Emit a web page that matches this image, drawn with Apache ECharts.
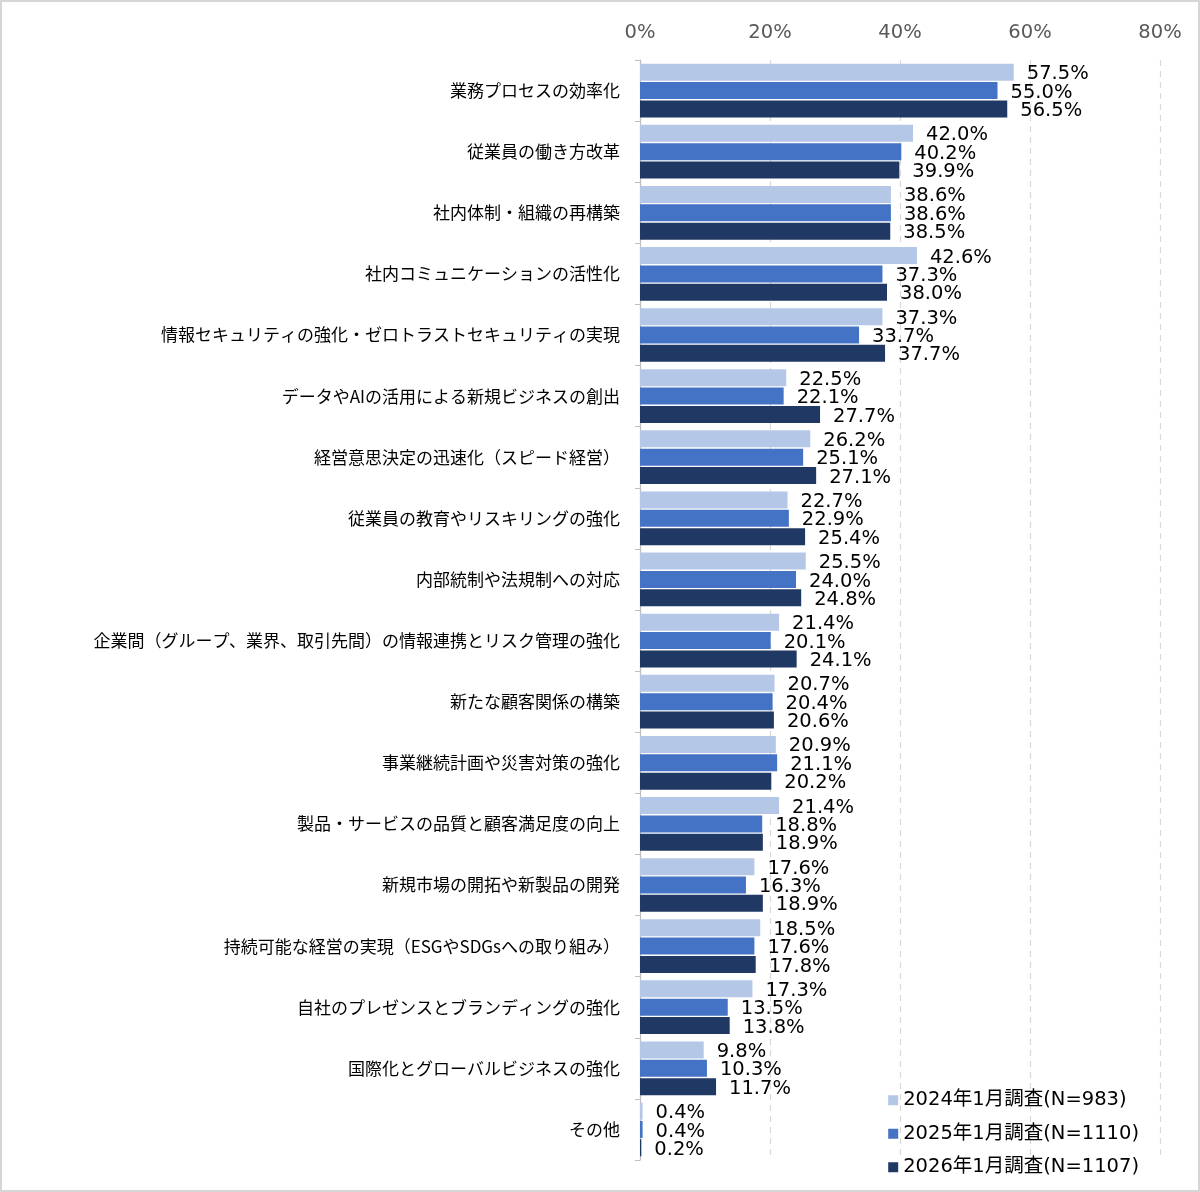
<!DOCTYPE html>
<html>
<head>
<meta charset="utf-8">
<script src="https://cdn.jsdelivr.net/npm/echarts@6/dist/echarts.min.js"></script>
<style>
    html, body { margin: 0; padding: 0; background: #fff; }
    #chart { width: 1200px; height: 1192px; box-sizing: border-box; border: 2px solid #D6D6D6; }
</style>
</head>
<body>
<div id="chart"></div>
<script>
// 回答項目
var categories = [
    "業務プロセスの効率化",
    "従業員の働き方改革",
    "社内体制・組織の再構築",
    "社内コミュニケーションの活性化",
    "情報セキュリティの強化・ゼロトラストセキュリティの実現",
    "データやAIの活用による新規ビジネスの創出",
    "経営意思決定の迅速化（スピード経営）",
    "従業員の教育やリスキリングの強化",
    "内部統制や法規制への対応",
    "企業間（グループ、業界、取引先間）の情報連携とリスク管理の強化",
    "新たな顧客関係の構築",
    "事業継続計画や災害対策の強化",
    "製品・サービスの品質と顧客満足度の向上",
    "新規市場の開拓や新製品の開発",
    "持続可能な経営の実現（ESGやSDGsへの取り組み）",
    "自社のプレゼンスとブランディングの強化",
    "国際化とグローバルビジネスの強化",
    "その他"
];
var seriesNames = ["2024年1月調査(N=983)", "2025年1月調査(N=1110)", "2026年1月調査(N=1107)"];
var values2024 = [57.5, 42.0, 38.6, 42.6, 37.3, 22.5, 26.2, 22.7, 25.5, 21.4, 20.7, 20.9, 21.4, 17.6, 18.5, 17.3, 9.8, 0.4];
var values2025 = [55.0, 40.2, 38.6, 37.3, 33.7, 22.1, 25.1, 22.9, 24.0, 20.1, 20.4, 21.1, 18.8, 16.3, 17.6, 13.5, 10.3, 0.4];
var values2026 = [56.5, 39.9, 38.5, 38.0, 37.7, 27.7, 27.1, 25.4, 24.8, 24.1, 20.6, 20.2, 18.9, 18.9, 17.8, 13.8, 11.7, 0.2];
var xTicks = [0, 20, 40, 60, 80];

var colors = ["#B4C7E7", "#4472C4", "#203864"];
var allValues = [values2024, values2025, values2026];

var makeSeries = function (i) {
    return {
        name: seriesNames[i],
        type: "bar",
        data: allValues[i],
        barWidth: 17,
        barGap: "8%",
        itemStyle: { color: colors[i] },
        label: {
            show: true,
            position: "right",
            distance: 13,
            offset: [0, 2],
            color: "#000",
            fontFamily: "DejaVu Sans",
            fontSize: 19.5,
            formatter: function (p) { return p.value.toFixed(1) + "%"; }
        }
    };
};

var myChart = echarts.init(document.getElementById("chart"));
myChart.setOption({
    animation: false,
    color: colors,
    grid: { left: 638, right: 38, top: 58, bottom: 30 },
    legend: {
        orient: "vertical",
        right: 54,
        bottom: 8,
        itemWidth: 10,
        itemHeight: 10,
        itemGap: 14,
        icon: "rect",
        textStyle: { fontFamily: "DejaVu Sans, Noto Sans CJK JP", fontSize: 19.5, color: "#000" },
        data: seriesNames
    },
    xAxis: {
        type: "value",
        position: "top",
        min: 0,
        max: 80,
        interval: 20,
        axisLine: { show: false },
        axisTick: { show: false },
        axisLabel: {
            color: "#595959",
            fontFamily: "DejaVu Sans",
            fontSize: 19.5,
            margin: 17,
            formatter: function (v) { return xTicks.indexOf(v) >= 0 ? v + "%" : ""; }
        },
        splitLine: { show: true, lineStyle: { type: [6, 5], color: "#D9D9D9", width: 1.2 } }
    },
    yAxis: {
        type: "category",
        inverse: true,
        data: categories,
        axisLine: { show: true, lineStyle: { color: "#BFBFBF", width: 1.2 } },
        axisTick: { show: true, length: 5, lineStyle: { color: "#BFBFBF" } },
        axisLabel: {
            color: "#000",
            fontFamily: "Noto Sans CJK JP",
            fontSize: 17,
            margin: 20
        }
    },
    series: [makeSeries(0), makeSeries(1), makeSeries(2)]
});
</script>
</body>
</html>
